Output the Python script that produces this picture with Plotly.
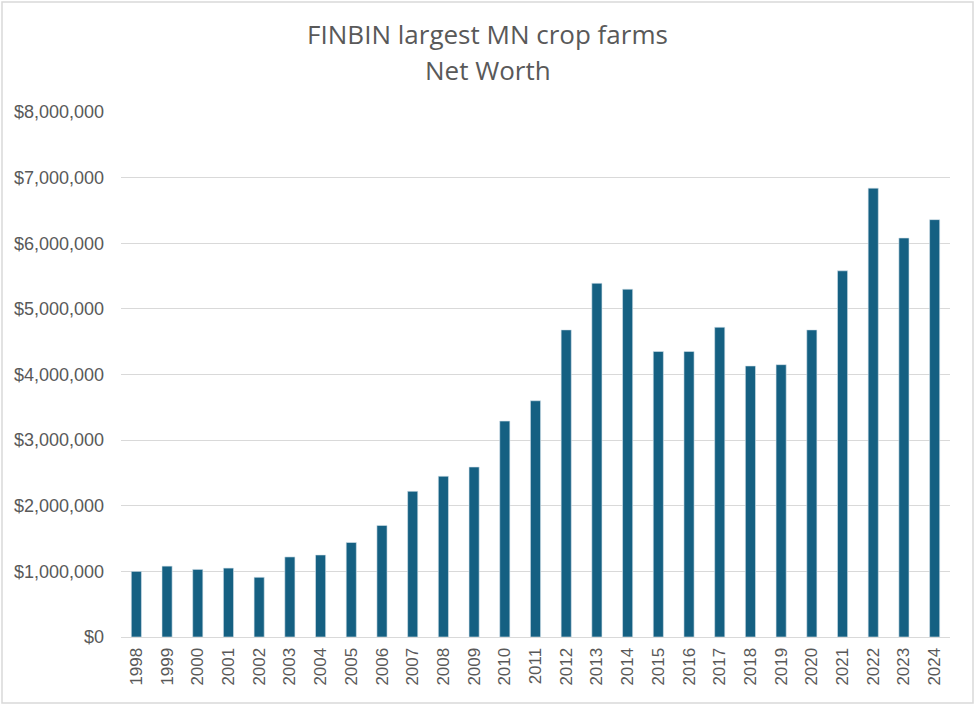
import plotly.graph_objects as go

# Chart data
years = [str(y) for y in range(1998, 2025)]
net_worth = [
    1000000, 1080000, 1030000, 1050000, 910000, 1220000, 1250000, 1440000,
    1700000, 2220000, 2450000, 2590000, 3290000, 3600000, 4680000, 5390000,
    5300000, 4350000, 4350000, 4720000, 4130000, 4150000, 4680000, 5580000,
    6840000, 6080000, 6360000,
]
y_ticks = list(range(0, 8000001, 1000000))
y_tick_text = ["$0"] + [f"${v:,}" for v in y_ticks[1:]]
title_lines = ["FINBIN largest MN crop farms", "Net Worth"]

W, H = 975, 705
M_L, M_R, M_T, M_B = 121, 25, 112, 68
GREY = "#595959"
FONT = "Liberation Sans, Arial, sans-serif"
TITLE_FONT = dict(family="Open Sans, " + FONT, size=26, color=GREY)

fig = go.Figure(go.Bar(
    x=years, y=net_worth,
    marker=dict(color="#156082", line=dict(color="#d6e4ec", width=0.6)),
    hoverinfo="x+y",
))

# light grey frame round the whole chart area
pw, ph = W - M_L - M_R, H - M_T - M_B
fig.add_shape(
    type="rect", xref="paper", yref="paper", layer="above",
    x0=-(M_L - 2) / pw, x1=1 + (M_R - 2) / pw,
    y0=-(M_B - 2) / ph, y1=1 + (M_T - 2) / ph,
    line=dict(color="#d9d9d9", width=1.5),
)

# second title line (Excel puts more space between the lines than plotly's <br>)
fig.add_annotation(
    text=title_lines[1], showarrow=False,
    xref="paper", yref="paper",
    x=(W / 2 - M_L) / pw, xanchor="center",
    y=1 + (M_T - 70) / ph, yanchor="middle",
    font=TITLE_FONT,
)

fig.update_layout(
    width=W, height=H,
    margin=dict(l=M_L, r=M_R, t=M_T, b=M_B),
    paper_bgcolor="white", plot_bgcolor="white",
    bargap=0.67,
    showlegend=False,
    title=dict(
        text=title_lines[0],
        x=0.5, xanchor="center", xref="container",
        y=1 - 35 / H, yanchor="middle", yref="container",
        font=TITLE_FONT,
    ),
    font=dict(family=FONT, color=GREY),
)

fig.update_xaxes(
    type="category", tickangle=-90,
    tickfont=dict(family=FONT, size=17, color=GREY),
    showgrid=False, showline=True, linecolor="#d9d9d9", linewidth=1,
    ticks="", ticklabelstandoff=3,
)
fig.update_yaxes(
    range=[0, 8000000], tickvals=y_ticks, ticktext=y_tick_text,
    tickfont=dict(family=FONT, size=18, color=GREY),
    showgrid=True, gridcolor="#d9d9d9", gridwidth=1,
    zeroline=False, showline=False, ticks="", ticklabelstandoff=16,
)

fig.write_html(
    "out.html",
    config={"displayModeBar": False},
    post_script="document.body.style.margin='0px';",
)
